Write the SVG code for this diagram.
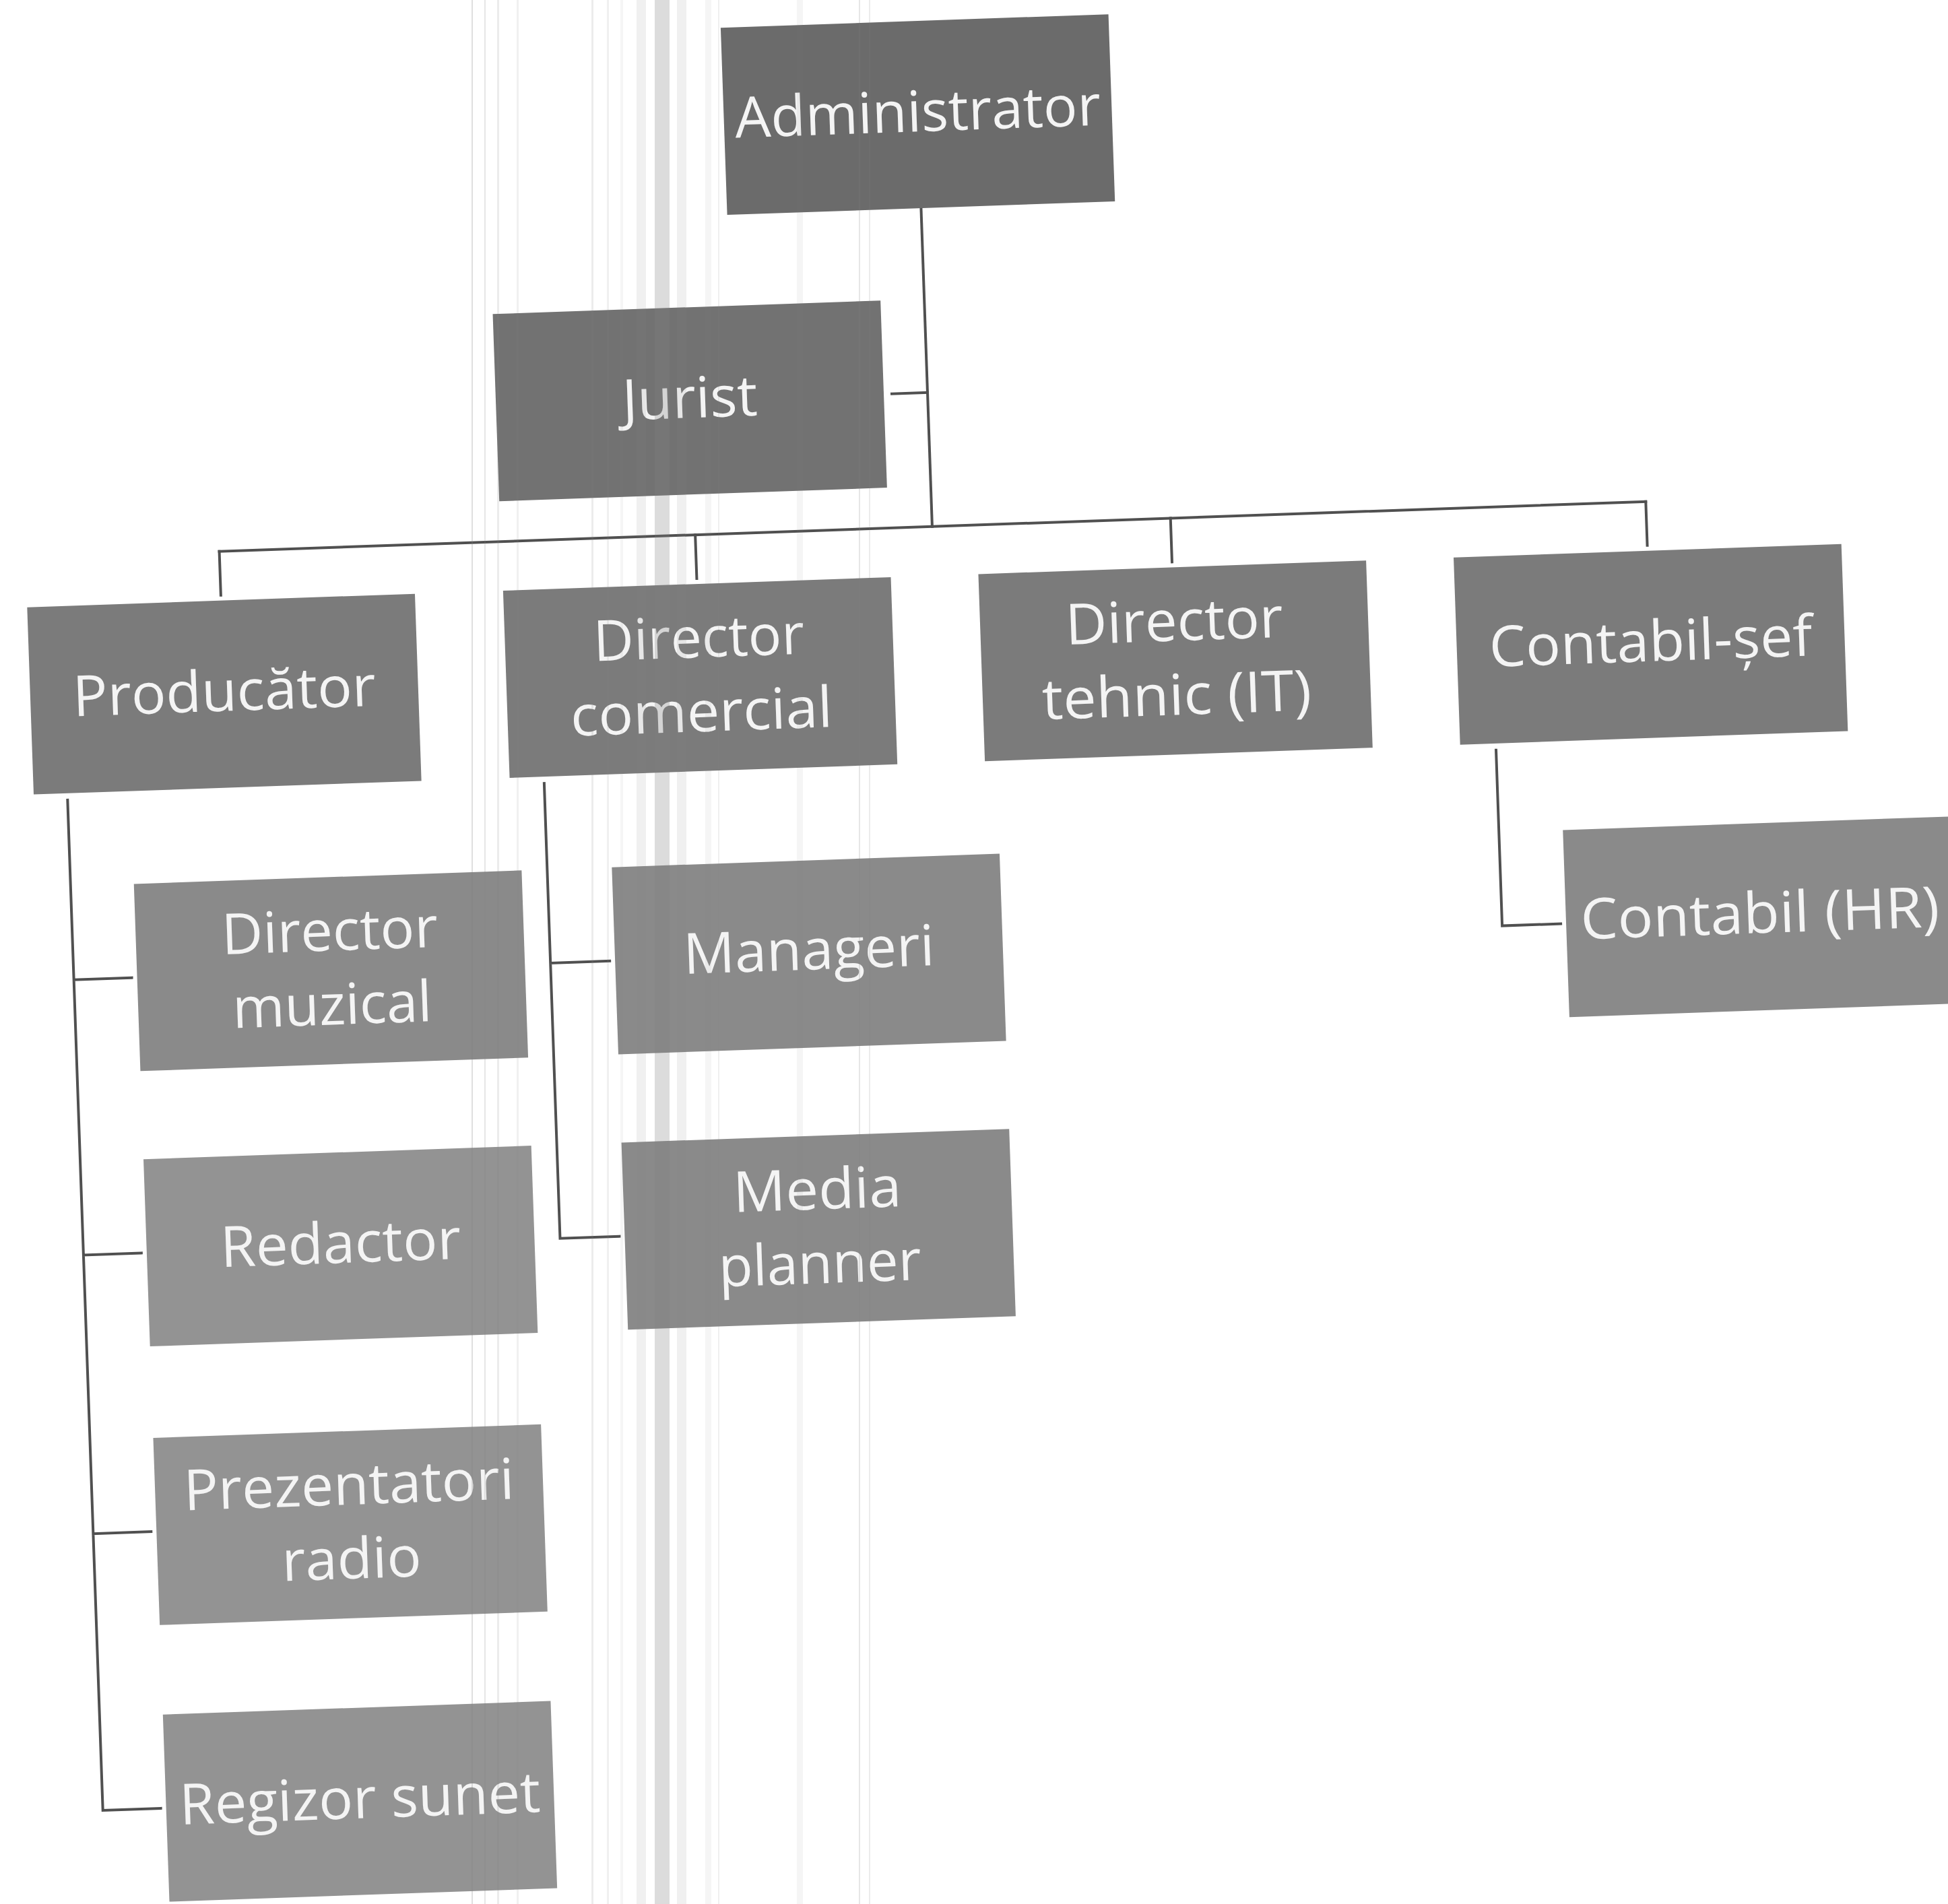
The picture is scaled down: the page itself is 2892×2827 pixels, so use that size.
<svg xmlns="http://www.w3.org/2000/svg" width="2892" height="2827" viewBox="0 0 2892 2827">
<style>
.box{stroke:none}
.l0{fill:#6b6b6b}
.l1{fill:#727272}
.l2{fill:#7b7b7b}
.l3{fill:#8a8a8a}
.l4{fill:#939393}
.t{font-family:'Open Sans','Liberation Sans',sans-serif;font-size:84px;fill:#f4f4f4;text-anchor:middle}
.c{stroke:#505050;stroke-width:4;fill:none;stroke-linecap:square}
.s{fill:#808080}
</style>
<rect x="0" y="0" width="2892" height="2827" fill="#ffffff"/>
<g transform="rotate(-2 1446 1413)">
  <g id="connectors">
    <path class="c" d="M1406 307 V780"/>
    <path class="c" d="M1353 581 H1406"/>
    <path class="c" d="M347 780 H2466"/>
    <path class="c" d="M347 780 V845 M1054 780 V845 M1760 780 V845 M2466 780 V845"/>
    <path class="c" d="M109 1141 V2642 H195 M109 1408 H195 M109 1817 H195 M109 2231 H195"/>
    <path class="c" d="M817 1141 V1817 H905 M817 1408 H905"/>
    <path class="c" d="M2231 1141 V1402 H2318"/>
  </g>
  <g id="node-administrator">
    <rect class="box l0" x="1118" y="29" width="576" height="278"/>
    <text class="t" x="1406" y="193" textLength="543" lengthAdjust="spacingAndGlyphs">Administrator</text>
  </g>
  <g id="node-jurist">
    <rect class="box l1" x="765" y="442" width="576" height="278"/>
    <text class="t" x="1053" y="606" textLength="201" lengthAdjust="spacingAndGlyphs">Jurist</text>
  </g>
  <g id="node-producator">
    <rect class="box l2" x="59" y="853" width="576" height="278"/>
    <text class="t" x="347" y="1017" textLength="450" lengthAdjust="spacingAndGlyphs">Producător</text>
  </g>
  <g id="node-director-comercial">
    <rect class="box l2" x="766" y="853" width="576" height="278"/>
    <text class="t" x="1054" y="962" textLength="313" lengthAdjust="spacingAndGlyphs">Director</text>
    <text class="t" x="1054" y="1072" textLength="389" lengthAdjust="spacingAndGlyphs">comercial</text>
  </g>
  <g id="node-director-tehnic">
    <rect class="box l2" x="1472" y="853" width="576" height="278"/>
    <text class="t" x="1760" y="962" textLength="323" lengthAdjust="spacingAndGlyphs">Director</text>
    <text class="t" x="1760" y="1072" textLength="400" lengthAdjust="spacingAndGlyphs">tehnic (IT)</text>
  </g>
  <g id="node-contabil-sef">
    <rect class="box l2" x="2178" y="853" width="576" height="278"/>
    <text class="t" x="2466" y="1017" textLength="480" lengthAdjust="spacingAndGlyphs">Contabil-șef</text>
  </g>
  <g id="node-director-muzical">
    <rect class="box l3" x="203" y="1269" width="576" height="278"/>
    <text class="t" x="491" y="1378" textLength="321" lengthAdjust="spacingAndGlyphs">Director</text>
    <text class="t" x="491" y="1488" textLength="296" lengthAdjust="spacingAndGlyphs">muzical</text>
  </g>
  <g id="node-redactor">
    <rect class="box l4" x="203" y="1678" width="576" height="278"/>
    <text class="t" x="491" y="1842" textLength="357" lengthAdjust="spacingAndGlyphs">Redactor</text>
  </g>
  <g id="node-prezentatori-radio">
    <rect class="box l4" x="203" y="2092" width="576" height="278"/>
    <text class="t" x="491" y="2201" textLength="491" lengthAdjust="spacingAndGlyphs">Prezentatori</text>
    <text class="t" x="491" y="2311" textLength="207" lengthAdjust="spacingAndGlyphs">radio</text>
  </g>
  <g id="node-regizor-sunet">
    <rect class="box l4" x="203" y="2503" width="576" height="278"/>
    <text class="t" x="491" y="2667" textLength="536" lengthAdjust="spacingAndGlyphs">Regizor sunet</text>
  </g>
  <g id="node-manageri">
    <rect class="box l3" x="913" y="1269" width="576" height="278"/>
    <text class="t" x="1201" y="1431" textLength="373" lengthAdjust="spacingAndGlyphs">Manageri</text>
  </g>
  <g id="node-media-planner">
    <rect class="box l3" x="913" y="1678" width="576" height="278"/>
    <text class="t" x="1201" y="1787" textLength="250" lengthAdjust="spacingAndGlyphs">Media</text>
    <text class="t" x="1201" y="1897" textLength="301" lengthAdjust="spacingAndGlyphs">planner</text>
  </g>
  <g id="node-contabil-hr">
    <rect class="box l3" x="2326" y="1263" width="576" height="278"/>
    <text class="t" x="2614" y="1426" textLength="533" lengthAdjust="spacingAndGlyphs">Contabil (HR)</text>
  </g>
</g>
<g id="scan-streaks">
  <rect class="s" x="700" y="0" width="2" height="2827" opacity="0.25"/>
  <rect class="s" x="719" y="0" width="2" height="2827" opacity="0.2"/>
  <rect class="s" x="738" y="0" width="3" height="2827" opacity="0.15"/>
  <rect class="s" x="767" y="0" width="3" height="2827" opacity="0.12"/>
  <rect class="s" x="878" y="0" width="3" height="2827" opacity="0.15"/>
  <rect class="s" x="901" y="0" width="3" height="2827" opacity="0.12"/>
  <rect class="s" x="921" y="0" width="4" height="2827" opacity="0.08"/>
  <rect class="s" x="945" y="0" width="14" height="2827" opacity="0.12"/>
  <rect class="s" x="972" y="0" width="22" height="2827" opacity="0.28"/>
  <rect class="s" x="1005" y="0" width="14" height="2827" opacity="0.12"/>
  <rect class="s" x="1047" y="0" width="9" height="2827" opacity="0.08"/>
  <rect class="s" x="1066" y="0" width="2" height="2827" opacity="0.12"/>
  <rect class="s" x="1183" y="0" width="9" height="2827" opacity="0.08"/>
  <rect class="s" x="1275" y="0" width="2" height="2827" opacity="0.2"/>
  <rect class="s" x="1290" y="0" width="2" height="2827" opacity="0.15"/>
</g>
</svg>
